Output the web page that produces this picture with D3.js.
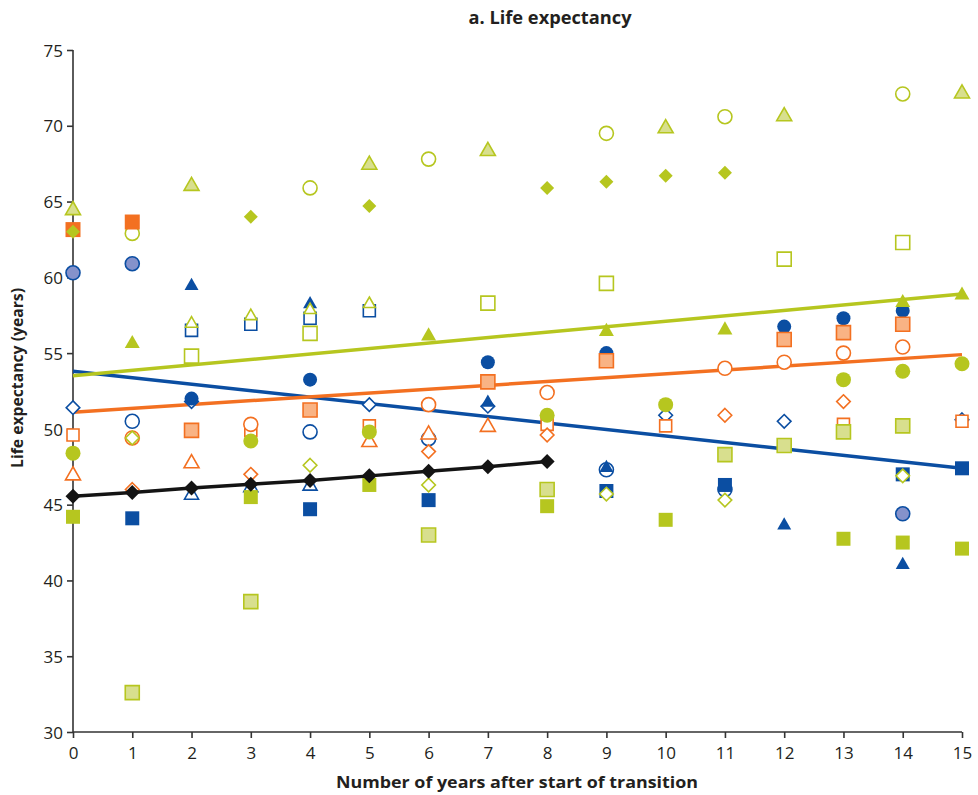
<!DOCTYPE html>
<html>
<head>
<meta charset="utf-8">
<script src="https://cdn.jsdelivr.net/npm/d3@7"></script>
<style>
  html, body { margin: 0; padding: 0; background: #fff; }
  svg { display: block; font-family: "Open Sans", "Noto Sans", sans-serif; }
</style>
</head>
<body>
<svg id="chart" width="978" height="795"></svg>
<script>
// ---- axis ticks ----
const xTickValues = [0, 1, 2, 3, 4, 5, 6, 7, 8, 9, 10, 11, 12, 13, 14, 15];
const yTickValues = [30, 35, 40, 45, 50, 55, 60, 65, 70, 75];

// ---- country series: [years after start of transition, life expectancy] ----
const greenLightTriangle = [[0, 64.5], [2, 66.1], [5, 67.5], [7, 68.4], [10, 69.9], [12, 70.7], [15, 72.2]];
const greenOpenCircle    = [[1, 62.9], [4, 65.9], [6, 67.8], [9, 69.5], [11, 70.6], [14, 72.1]];
const greenFilledDiamond = [[0, 63.0], [3, 64.0], [5, 64.7], [8, 65.9], [9, 66.3], [10, 66.7], [11, 66.9]];
const orangeFilledSquare = [[0, 63.15], [1, 63.65]];
const purpleCircle       = [[0, 60.3], [1, 60.9], [14, 44.4]];
const blueFilledTriangle = [[2, 59.5], [4, 58.3], [7, 51.8], [9, 47.5], [12, 43.7], [14, 41.1]];
const greenOpenTriangle  = [[2, 57.0], [3, 57.5], [4, 57.9], [5, 58.3]];
const blueOpenSquare     = [[2, 56.5], [3, 56.9], [4, 57.3], [5, 57.8]];
const greenOpenSquare    = [[2, 54.8], [4, 56.3], [7, 58.3], [9, 59.6], [12, 61.2], [14, 62.3]];
const greenFilledTriangle = [[1, 55.7], [6, 56.2], [9, 56.5], [11, 56.6], [14, 58.4], [15, 58.9]];
const blueFilledCircle   = [[2, 52.0], [4, 53.25], [7, 54.4], [9, 55.0], [12, 56.75], [13, 57.3], [14, 57.8]];
const lightOrangeSquare  = [[2, 49.9], [4, 51.25], [7, 53.1], [9, 54.5], [12, 55.9], [13, 56.35], [14, 56.9]];
const orangeOpenCircle   = [[1, 49.4], [3, 50.3], [6, 51.6], [8, 52.4], [11, 54.0], [12, 54.4], [13, 55.0], [14, 55.4]];
const blueOpenDiamond    = [[0, 51.4], [2, 51.8], [5, 51.6], [7, 51.5], [10, 50.9], [12, 50.5], [15, 50.6]];
const orangeOpenSquare   = [[0, 49.6], [3, 49.9], [5, 50.2], [8, 50.3], [10, 50.2], [13, 50.3], [15, 50.5]];
const greenFilledCircle  = [[0, 48.4], [3, 49.2], [5, 49.8], [8, 50.9], [10, 51.6], [13, 53.25], [14, 53.8], [15, 54.3]];
const orangeOpenTriangle = [[0, 47.0], [2, 47.8], [5, 49.2], [6, 49.7], [7, 50.2]];
const blueOpenCircle     = [[1, 50.5], [4, 49.8], [6, 49.35], [9, 47.3], [11, 46.0]];
const greenOpenDiamond   = [[1, 49.4], [4, 47.6], [6, 46.3], [9, 45.7], [11, 45.3], [14, 46.9]];
const orangeOpenDiamond  = [[1, 46.0], [3, 47.0], [6, 48.5], [8, 49.6], [11, 50.9], [13, 51.8]];
const blueOpenTriangle   = [[2, 45.7], [3, 46.2], [4, 46.3]];
const greenFilledSquare  = [[0, 44.2], [3, 45.5], [5, 46.3], [8, 44.9], [10, 44.0], [13, 42.75], [14, 42.5], [15, 42.1]];
const blueFilledSquare   = [[1, 44.1], [4, 44.7], [6, 45.3], [9, 45.9], [11, 46.3], [14, 47.0], [15, 47.4]];
const lightGreenSquare   = [[1, 32.6], [3, 38.6], [6, 43.0], [8, 46.0], [11, 48.3], [12, 48.9], [13, 49.8], [14, 50.2]];
const averageSeries      = [[0, 45.55], [1, 45.8], [2, 46.1], [3, 46.35], [4, 46.6], [5, 46.9], [6, 47.2], [7, 47.5], [8, 47.85]];

// ---- fitted trend lines (endpoints) ----
const trendGreen  = [[0, 53.5], [15, 58.9]];
const trendOrange = [[0, 51.1], [15, 54.9]];
const trendBlue   = [[0, 53.8], [15, 47.4]];

// ---- palette ----
const BLUE = "#0b4ea2", ORANGE = "#f37021", GREEN = "#b6c61f";
const LIGHT_GREEN = "#d8df8e", LIGHT_ORANGE = "#f9b384", PURPLE = "#8592cb", BLACK = "#141414";

// ---- marker shapes as d3 symbol types ----
const shapeCircle = { draw(ctx, r) { ctx.moveTo(r, 0); ctx.arc(0, 0, r, 0, 2 * Math.PI); } };
const shapeSquare = { draw(ctx, r) { ctx.rect(-r, -r, 2 * r, 2 * r); } };
const shapeTriangle = { draw(ctx, r) {
  const h = r * 1.75;
  ctx.moveTo(0, -h * 0.58); ctx.lineTo(r, h * 0.42); ctx.lineTo(-r, h * 0.42); ctx.closePath();
} };
const shapeDiamond = { draw(ctx, r) {
  ctx.moveTo(0, -r); ctx.lineTo(r, 0); ctx.lineTo(0, r); ctx.lineTo(-r, 0); ctx.closePath();
} };

// drawing order: bottom to top
const layers = [
  { data: blueOpenCircle,     shape: shapeCircle,   r: 7,   fill: "#fff", stroke: BLUE },
  { data: blueOpenDiamond,    shape: shapeDiamond,  r: 6.8, fill: "#fff", stroke: BLUE },
  { data: orangeOpenSquare,   shape: shapeSquare,   r: 6,   fill: "#fff", stroke: ORANGE },
  { data: blueOpenSquare,     shape: shapeSquare,   r: 6,   fill: "#fff", stroke: BLUE },
  { data: blueOpenTriangle,   shape: shapeTriangle, r: 7,   fill: "#fff", stroke: BLUE },
  { data: orangeOpenCircle,   shape: shapeCircle,   r: 7,   fill: "#fff", stroke: ORANGE },
  { data: orangeOpenDiamond,  shape: shapeDiamond,  r: 6.8, fill: "#fff", stroke: ORANGE },
  { data: orangeOpenTriangle, shape: shapeTriangle, r: 7.5, fill: "#fff", stroke: ORANGE },
  { data: greenOpenCircle,    shape: shapeCircle,   r: 7,   fill: "#fff", stroke: GREEN },
  { data: greenOpenSquare,    shape: shapeSquare,   r: 7,   fill: "#fff", stroke: GREEN },
  { data: lightGreenSquare,   shape: shapeSquare,   r: 7,   fill: LIGHT_GREEN, stroke: GREEN },
  { data: blueFilledCircle,   shape: shapeCircle,   r: 7,   fill: BLUE,  stroke: "none" },
  { data: lightOrangeSquare,  shape: shapeSquare,   r: 7,   fill: LIGHT_ORANGE, stroke: ORANGE },
  { data: orangeFilledSquare, shape: shapeSquare,   r: 7.5, fill: ORANGE, stroke: "none" },
  { data: greenFilledDiamond, shape: shapeDiamond,  r: 7,   fill: GREEN, stroke: "none" },
  { data: purpleCircle,       shape: shapeCircle,   r: 7,   fill: PURPLE, stroke: BLUE },
  { data: greenFilledCircle,  shape: shapeCircle,   r: 7.5, fill: GREEN, stroke: "none" },
  { data: greenLightTriangle, shape: shapeTriangle, r: 7.5, fill: LIGHT_GREEN, stroke: GREEN },
  { data: blueFilledTriangle, shape: shapeTriangle, r: 7,   fill: BLUE,  stroke: "none" },
  { data: greenOpenTriangle,  shape: shapeTriangle, r: 6,   fill: "#fff", stroke: GREEN },
  { data: greenFilledTriangle, shape: shapeTriangle, r: 7.5, fill: GREEN, stroke: "none" },
  { data: blueFilledSquare,   shape: shapeSquare,   r: 7,   fill: BLUE,  stroke: "none" },
  { data: greenFilledSquare,  shape: shapeSquare,   r: 7,   fill: GREEN, stroke: "none" },
  { data: greenOpenDiamond,   shape: shapeDiamond,  r: 6.8, fill: "#fff", stroke: GREEN }
];

const svg = d3.select("#chart");
const x = d3.scaleLinear().domain([0, 15]).range([73, 962]);
const y = d3.scaleLinear().domain([30, 75]).range([732, 50]);

// title
svg.append("text")
  .attr("x", 550).attr("y", 24)
  .attr("text-anchor", "middle")
  .attr("font-size", 17).attr("font-weight", "bold").attr("fill", "#231f20")
  .attr("textLength", 163).attr("lengthAdjust", "spacingAndGlyphs")
  .text("a. Life expectancy");

// axes
const axisColor = "#333";
const yAxis = svg.append("g").attr("transform", `translate(${x(0)},0)`)
  .call(d3.axisLeft(y).tickValues(yTickValues).tickSize(6).tickPadding(4).tickFormat(d3.format("d")));
const xAxis = svg.append("g").attr("transform", `translate(0,${y(30)})`)
  .call(d3.axisBottom(x).tickValues(xTickValues).tickSize(6).tickPadding(9).tickFormat(d3.format("d")));
[yAxis, xAxis].forEach(g => {
  g.select(".domain").attr("stroke", axisColor).attr("stroke-width", 1.6);
  g.selectAll(".tick line").attr("stroke", axisColor).attr("stroke-width", 1.6);
  g.selectAll(".tick text").attr("font-size", 17).attr("fill", "#231f20")
    .attr("font-family", "'Open Sans', sans-serif");
});
// extend domain without outer ticks
yAxis.select(".domain").attr("d", `M0,${y(75)}V${y(30)}`);
xAxis.select(".domain").attr("d", `M${x(0)},0H${x(15)}`);
yAxis.selectAll(".tick text").attr("dy", "0.36em");

// axis titles
svg.append("text")
  .attr("transform", `translate(23,378) rotate(-90)`)
  .attr("text-anchor", "middle")
  .attr("font-size", 16).attr("font-weight", "bold").attr("fill", "#231f20")
  .attr("textLength", 180).attr("lengthAdjust", "spacingAndGlyphs")
  .text("Life expectancy (years)");
svg.append("text")
  .attr("x", 517).attr("y", 788)
  .attr("text-anchor", "middle")
  .attr("font-size", 16).attr("font-weight", "bold").attr("fill", "#231f20")
  .attr("textLength", 362).attr("lengthAdjust", "spacingAndGlyphs")
  .text("Number of years after start of transition");

// trend lines
const line = d3.line().x(d => x(d[0])).y(d => y(d[1]));
const trends = [
  { data: trendBlue, color: BLUE },
  { data: trendOrange, color: ORANGE },
  { data: trendGreen, color: GREEN }
];
svg.append("g").selectAll("path").data(trends).join("path")
  .attr("d", d => line(d.data))
  .attr("fill", "none").attr("stroke", d => d.color).attr("stroke-width", 3.5);

// country markers
const markers = svg.append("g");
layers.forEach(layer => {
  const sym = d3.symbol().type(layer.shape).size(layer.r);
  markers.append("g").selectAll("path").data(layer.data).join("path")
    .attr("transform", d => `translate(${x(d[0])},${y(d[1])})`)
    .attr("d", sym)
    .attr("fill", layer.fill)
    .attr("stroke", layer.stroke)
    .attr("stroke-width", layer.stroke === "none" ? 0 : 1.6);
});

// average series: line with diamond markers
svg.append("path")
  .attr("d", line(averageSeries))
  .attr("fill", "none").attr("stroke", BLACK).attr("stroke-width", 3.5);
svg.append("g").selectAll("path").data(averageSeries).join("path")
  .attr("transform", d => `translate(${x(d[0])},${y(d[1])})`)
  .attr("d", d3.symbol().type(shapeDiamond).size(7.5))
  .attr("fill", BLACK);
</script>
</body>
</html>
